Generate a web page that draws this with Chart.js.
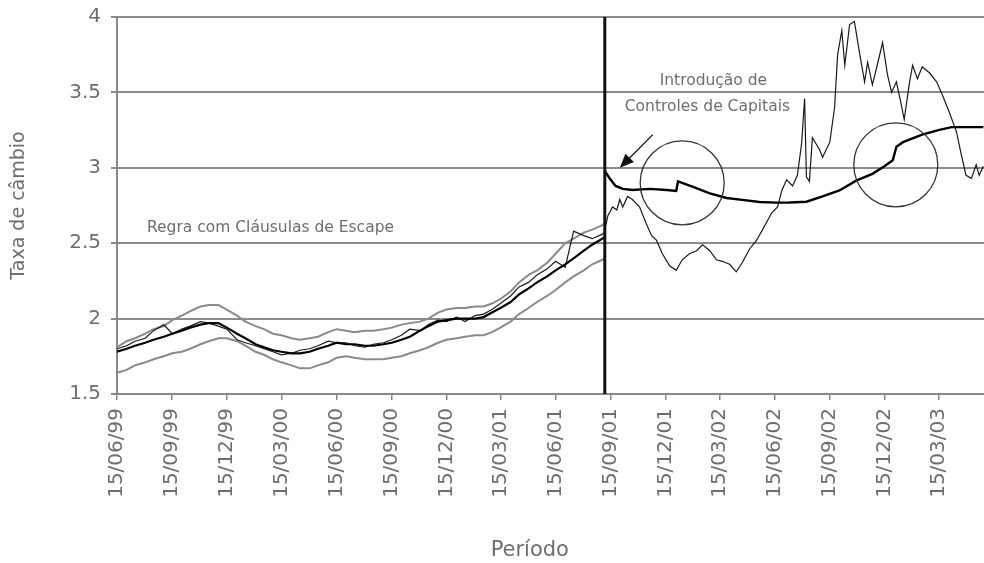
<!DOCTYPE html>
<html>
<head>
<meta charset="utf-8">
<script src="https://cdn.jsdelivr.net/npm/chart.js@4.4.0/dist/chart.umd.min.js"></script>
<style>
  html, body { margin: 0; padding: 0; background: #fff; }
</style>
</head>
<body>
<canvas id="cambioChart" width="984" height="563"></canvas>
<script>
// rótulos do eixo x (trimestrais)
const rotulosX = ['15/06/99', '15/09/99', '15/12/99', '15/03/00', '15/06/00', '15/09/00', '15/12/00', '15/03/01',
    '15/06/01', '15/09/01', '15/12/01', '15/03/02', '15/06/02', '15/09/02', '15/12/02', '15/03/03'];

// periodo antes dos controles de capitais
const datasPre = ['15/06/99', '01/07/99', '15/07/99', '01/08/99', '15/08/99', '01/09/99', '15/09/99', '01/10/99',
    '15/10/99', '01/11/99', '15/11/99', '01/12/99', '15/12/99', '01/01/00', '15/01/00', '01/02/00', '15/02/00',
    '01/03/00', '15/03/00', '01/04/00', '15/04/00', '01/05/00', '15/05/00', '01/06/00', '15/06/00', '01/07/00',
    '15/07/00', '01/08/00', '15/08/00', '01/09/00', '15/09/00', '01/10/00', '15/10/00', '01/11/00', '15/11/00',
    '01/12/00', '15/12/00', '01/01/01', '15/01/01', '01/02/01', '15/02/01', '01/03/01', '15/03/01', '01/04/01',
    '15/04/01', '01/05/01', '15/05/01', '01/06/01', '15/06/01', '01/07/01', '15/07/01', '01/08/01', '15/08/01',
    '01/09/01', '04/09/01'];
const bandaSuperior = [1.81, 1.85, 1.87, 1.90, 1.93, 1.95, 1.99, 2.02, 2.05, 2.08, 2.09, 2.09, 2.06, 2.02, 1.98,
    1.95, 1.93, 1.90, 1.89, 1.87, 1.86, 1.87, 1.88, 1.91, 1.93, 1.92, 1.91, 1.92, 1.92, 1.93, 1.94, 1.96, 1.97,
    1.98, 2.00, 2.04, 2.06, 2.07, 2.07, 2.08, 2.08, 2.10, 2.13, 2.18, 2.24, 2.29, 2.32, 2.37, 2.43, 2.50, 2.53,
    2.57, 2.59, 2.62, 2.63];
const bandaInferior = [1.64, 1.66, 1.69, 1.71, 1.73, 1.75, 1.77, 1.78, 1.80, 1.83, 1.85, 1.87, 1.87, 1.85, 1.82,
    1.78, 1.76, 1.73, 1.71, 1.69, 1.67, 1.67, 1.69, 1.71, 1.74, 1.75, 1.74, 1.73, 1.73, 1.73, 1.74, 1.75, 1.77,
    1.79, 1.81, 1.84, 1.86, 1.87, 1.88, 1.89, 1.89, 1.91, 1.94, 1.98, 2.03, 2.07, 2.11, 2.15, 2.19, 2.24, 2.28,
    2.32, 2.36, 2.39, 2.40];
const regraPre = [1.78, 1.80, 1.82, 1.84, 1.86, 1.88, 1.90, 1.92, 1.94, 1.96, 1.97, 1.97, 1.94, 1.90, 1.87,
    1.83, 1.81, 1.79, 1.78, 1.77, 1.77, 1.78, 1.80, 1.82, 1.84, 1.83, 1.83, 1.82, 1.82, 1.83, 1.84, 1.86, 1.88,
    1.92, 1.95, 1.98, 1.99, 2.00, 2.00, 2.00, 2.01, 2.04, 2.07, 2.11, 2.16, 2.20, 2.24, 2.28, 2.32, 2.36, 2.40,
    2.45, 2.49, 2.53, 2.54];
const cambioPre = [1.80, 1.82, 1.85, 1.87, 1.92, 1.96, 1.90, 1.93, 1.95, 1.98, 1.97, 1.95, 1.93, 1.86, 1.84,
    1.82, 1.80, 1.78, 1.76, 1.77, 1.79, 1.80, 1.82, 1.85, 1.84, 1.84, 1.82, 1.81, 1.83, 1.84, 1.86, 1.89, 1.93,
    1.92, 1.96, 1.99, 1.98, 2.01, 1.98, 2.02, 2.03, 2.06, 2.10, 2.15, 2.21, 2.24, 2.29, 2.33, 2.38, 2.34, 2.58,
    2.55, 2.53, 2.56, 2.57];

// periodo depois dos controles de capitais
const datasPos = ['05/09/01', '10/09/01', '18/09/01', '25/09/01', '30/09/01', '05/10/01', '13/10/01', '21/10/01',
    '02/11/01', '13/11/01', '22/11/01', '30/11/01', '10/12/01', '22/12/01', '02/01/02', '12/01/02', '24/01/02',
    '05/02/02', '15/02/02', '27/02/02', '10/03/02', '20/03/02', '01/04/02', '12/04/02', '22/04/02', '04/05/02',
    '16/05/02', '26/05/02', '10/06/02', '20/06/02', '27/06/02', '05/07/02', '15/07/02', '23/07/02', '30/07/02',
    '04/08/02', '07/08/02', '12/08/02', '17/08/02', '29/08/02', '03/09/02', '15/09/02', '23/09/02', '28/09/02',
    '05/10/02', '10/10/02', '18/10/02', '26/10/02', '04/11/02', '12/11/02', '17/11/02', '25/11/02', '03/12/02',
    '12/12/02', '20/12/02', '27/12/02', '04/01/03', '12/01/03', '17/01/03', '26/01/03', '31/01/03', '08/02/03',
    '16/02/03', '28/02/03', '12/03/03', '22/03/03', '02/04/03', '14/04/03', '22/04/03', '30/04/03', '09/05/03',
    '17/05/03', '22/05/03', '29/05/03'];
const cambioPos = [2.59, 2.68, 2.74, 2.72, 2.79, 2.74, 2.81, 2.79, 2.74, 2.63, 2.55, 2.52, 2.43, 2.35, 2.32,
    2.39, 2.43, 2.45, 2.49, 2.45, 2.39, 2.38, 2.36, 2.31, 2.37, 2.46, 2.52, 2.59, 2.70, 2.74, 2.85, 2.92, 2.88,
    2.95, 3.16, 3.46, 2.94, 2.91, 3.20, 3.12, 3.07, 3.17, 3.40, 3.75, 3.91, 3.68, 3.95, 3.97, 3.75, 3.57, 3.70,
    3.55, 3.68, 3.83, 3.62, 3.50, 3.57, 3.42, 3.32, 3.57, 3.68, 3.59, 3.67, 3.63, 3.57, 3.48, 3.37, 3.24, 3.09,
    2.95, 2.93, 3.02, 2.95, 3.01];
const datasRegraPos = ['05/09/01', '13/09/01', '23/09/01', '05/10/01', '21/10/01', '19/11/01', '17/12/01',
    '02/01/02', '05/01/02', '29/01/02', '27/02/02', '27/03/02', '22/04/02', '21/05/02', '18/06/02', '10/07/02',
    '07/08/02', '03/09/02', '01/10/02', '29/10/02', '25/11/02', '15/12/02', '29/12/02', '04/01/03', '15/01/03',
    '16/02/03', '15/03/03', '06/04/03', '29/05/03'];
const regraPos = [2.98, 2.93, 2.88, 2.86, 2.853, 2.86, 2.853, 2.846, 2.91, 2.875, 2.83, 2.80, 2.787, 2.773,
    2.769, 2.77, 2.775, 2.81, 2.85, 2.915, 2.96, 3.01, 3.05, 3.14, 3.17, 3.22, 3.25, 3.27, 3.27];

const dataControles = '05/09/01';

// dias desde 15/06/99
function dia(s) {
    const [d, m, a] = s.split('/').map(Number);
    const ano = a > 50 ? 1900 + a : 2000 + a;
    return (Date.UTC(ano, m - 1, d) - Date.UTC(1999, 5, 15)) / 86400000;
}
const pontos = (datas, valores) => datas.map((d, i) => ({ x: dia(d), y: valores[i] }));

const fonte = "'DejaVu Sans', Verdana, sans-serif";
const cinzaTexto = '#6e6e6e';

// circulos, seta, linha vertical e textos
const anotacoes = {
    id: 'anotacoes',
    afterDatasetsDraw(chart) {
        const { ctx, chartArea, scales: { x, y } } = chart;
        ctx.save();
        // linha vertical: introducao dos controles
        const xv = x.getPixelForValue(dia(dataControles));
        ctx.strokeStyle = '#111';
        ctx.lineWidth = 3;
        ctx.beginPath();
        ctx.moveTo(xv, chartArea.top);
        ctx.lineTo(xv, chartArea.bottom);
        ctx.stroke();

        // circulos
        ctx.strokeStyle = '#333';
        ctx.lineWidth = 1.3;
        [['12/01/02', 2.9], ['03/01/03', 3.02]].forEach(([d, v]) => {
            ctx.beginPath();
            ctx.arc(x.getPixelForValue(dia(d)), y.getPixelForValue(v), 42, 0, Math.PI * 2);
            ctx.stroke();
        });

        // seta
        const x0 = x.getPixelForValue(dia('24/11/01')), y0 = y.getPixelForValue(3.22);
        const x1 = x.getPixelForValue(dia('30/09/01')), y1 = y.getPixelForValue(3.0);
        const ang = Math.atan2(y1 - y0, x1 - x0);
        ctx.strokeStyle = '#111';
        ctx.fillStyle = '#111';
        ctx.lineWidth = 1.3;
        ctx.beginPath();
        ctx.moveTo(x0, y0);
        ctx.lineTo(x1 - 10 * Math.cos(ang), y1 - 10 * Math.sin(ang));
        ctx.stroke();
        ctx.beginPath();
        ctx.moveTo(x1, y1);
        ctx.lineTo(x1 - 14 * Math.cos(ang) + 6 * Math.sin(ang), y1 - 14 * Math.sin(ang) - 6 * Math.cos(ang));
        ctx.lineTo(x1 - 14 * Math.cos(ang) - 6 * Math.sin(ang), y1 - 14 * Math.sin(ang) + 6 * Math.cos(ang));
        ctx.closePath();
        ctx.fill();

        // textos
        ctx.fillStyle = cinzaTexto;
        ctx.font = '15.5px ' + fonte;
        ctx.textBaseline = 'middle';
        ctx.textAlign = 'center';
        ctx.fillText('Introdução de', x.getPixelForValue(dia('05/03/02')), y.getPixelForValue(3.578));
        ctx.fillText('Controles de Capitais', x.getPixelForValue(dia('23/02/02')), y.getPixelForValue(3.403));
        ctx.textAlign = 'left';
        ctx.fillText('Regra com Cláusulas de Escape', x.getPixelForValue(dia('04/08/99')), y.getPixelForValue(2.601));

        // titulo do eixo x
        ctx.font = '21px ' + fonte;
        ctx.textAlign = 'center';
        ctx.fillText('Período', x.getPixelForValue(dia('03/05/01')), chart.height - 12);
        ctx.restore();
    }
};

const estilo = (cor, largura) => ({ borderColor: cor, backgroundColor: cor, borderWidth: largura, pointRadius: 0, fill: false, tension: 0 });

const ctx = document.getElementById('cambioChart').getContext('2d');
const cambioChart = new Chart(ctx, {
    type: 'line',
    data: {
        datasets: [
            { label: 'Regra', data: pontos(datasPre, regraPre), ...estilo('#000', 2.2) },
            { label: 'Regra pós', data: pontos(datasRegraPos, regraPos), ...estilo('#000', 2.4) },
            { label: 'Câmbio', data: pontos(datasPre.concat(datasPos), cambioPre.concat(cambioPos)), ...estilo('#1a1a1a', 1.2) },
            { label: 'Banda superior', data: pontos(datasPre, bandaSuperior), ...estilo('#8a8a8a', 2) },
            { label: 'Banda inferior', data: pontos(datasPre, bandaInferior), ...estilo('#8a8a8a', 2) }
        ]
    },
    options: {
        responsive: false,
        animation: false,
        layout: { padding: { top: 17, right: 0, left: 0, bottom: 0 } },
        plugins: { legend: { display: false }, tooltip: { enabled: false } },
        scales: {
            x: {
                type: 'linear',
                min: dia('15/06/99'),
                max: dia('30/05/03'),
                afterBuildTicks: (s) => { s.ticks = rotulosX.map(r => ({ value: dia(r) })); },
                afterFit: (s) => { s.height = 169; s.paddingLeft = 0; s.paddingRight = 0; },
                grid: { drawOnChartArea: false, color: '#888', lineWidth: 1.5, tickLength: 6 },
                border: { color: '#888', width: 2 },
                ticks: {
                    autoSkip: false, maxRotation: 90, minRotation: 90, padding: 8,
                    color: cinzaTexto, font: { family: fonte, size: 20 },
                    callback: (v, i) => rotulosX[i]
                }
            },
            y: {
                min: 1.5,
                max: 4,
                afterFit: (s) => { s.width = 117; s.paddingTop = 0; s.paddingBottom = 0; },
                grid: { color: '#8a8a8a', lineWidth: 2, tickLength: 6 },
                border: { color: '#888', width: 2 },
                ticks: { stepSize: 0.5, padding: 10, color: cinzaTexto, font: { family: fonte, size: 20 }, callback: (v) => String(v) },
                title: { display: true, text: 'Taxa de câmbio', color: cinzaTexto, font: { family: fonte, size: 19 }, padding: { top: 8, bottom: 0 } }
            }
        }
    },
    plugins: [anotacoes]
});
</script>
</body>
</html>
